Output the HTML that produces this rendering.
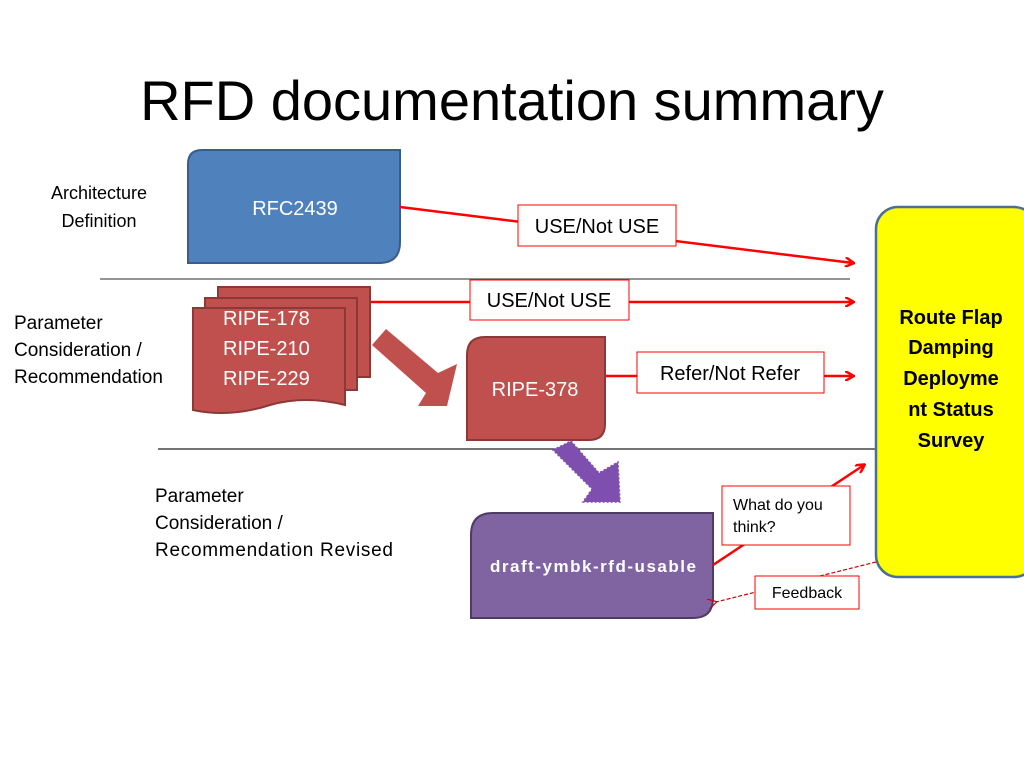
<!DOCTYPE html>
<html><head><meta charset="utf-8"><style>html,body{margin:0;padding:0;background:#fff}svg{display:block}</style></head><body>
<svg width="1024" height="768" xmlns="http://www.w3.org/2000/svg" font-family="Liberation Sans, sans-serif">
<defs>
<marker id="ah" markerWidth="10" markerHeight="10" refX="8" refY="5" orient="auto" markerUnits="userSpaceOnUse"><path d="M0,0 L9,5 L0,10" fill="none" stroke="#f00" stroke-width="2.5"/></marker>
<marker id="ah2" markerWidth="10" markerHeight="10" refX="1" refY="5" orient="auto" markerUnits="userSpaceOnUse"><path d="M9,0 L0,5 L9,10" fill="none" stroke="#c00" stroke-width="1.2"/></marker>
</defs>
<text x="512" y="120" text-anchor="middle" font-size="56" fill="#000">RFD documentation summary</text>

<g font-size="18" fill="#000">
<text x="99" y="199" text-anchor="middle">Architecture</text>
<text x="99" y="227" text-anchor="middle">Definition</text>
</g>
<g font-size="19" fill="#000">
<text x="14" y="329">Parameter</text>
<text x="14" y="356">Consideration /</text>
<text x="14" y="383">Recommendation</text>
<text x="155" y="502">Parameter</text>
<text x="155" y="529">Consideration /</text>
<text x="155" y="556" textLength="238">Recommendation Revised</text>
</g>

<line x1="100" y1="279" x2="850" y2="279" stroke="#555" stroke-width="1.3"/>
<line x1="158" y1="449" x2="876" y2="449" stroke="#222" stroke-width="1.3"/>

<path d="M202,150 H400 V242 Q400,263 379,263 H188 V164 Q188,150 202,150Z" fill="#4F81BD" stroke="#385D8A" stroke-width="2"/>
<text x="295" y="215" text-anchor="middle" font-size="20" fill="#fff">RFC2439</text>

<line x1="400" y1="207" x2="853" y2="263" stroke="#f00" stroke-width="2.5" marker-end="url(#ah)"/>
<rect x="518" y="205" width="158" height="41" fill="#fff" stroke="#f00" stroke-width="1"/>
<text x="597" y="233" text-anchor="middle" font-size="20">USE/Not USE</text>

<line x1="370" y1="302" x2="853" y2="302" stroke="#f00" stroke-width="2.5" marker-end="url(#ah)"/>
<rect x="470" y="280" width="159" height="40" fill="#fff" stroke="#f00" stroke-width="1"/>
<text x="549" y="307" text-anchor="middle" font-size="20">USE/Not USE</text>

<line x1="605" y1="376" x2="853" y2="376" stroke="#f00" stroke-width="2.5" marker-end="url(#ah)"/>
<rect x="637" y="352" width="187" height="41" fill="#fff" stroke="#f00" stroke-width="1"/>
<text x="730" y="380" text-anchor="middle" font-size="20">Refer/Not Refer</text>

<rect x="218" y="287" width="152" height="90" fill="#C0504D" stroke="#8C3836" stroke-width="2"/>
<rect x="205" y="298" width="152" height="92" fill="#C0504D" stroke="#8C3836" stroke-width="2"/>
<path d="M193,308 H345 V405 Q305,395 270,405 Q230,418 193,410Z" fill="#C0504D" stroke="#8C3836" stroke-width="2"/>
<g font-size="20" fill="#fff">
<text x="223" y="325">RIPE-178</text>
<text x="223" y="355">RIPE-210</text>
<text x="223" y="385">RIPE-229</text>
</g>

<path d="M372,345 L386,329 L438,373 L457,364 L447,406 L418,406 L426,393 Z" fill="#C0504D"/>

<path d="M485,337 H605 V424 Q605,440 589,440 H467 V355 Q467,337 485,337Z" fill="#C0504D" stroke="#8C3836" stroke-width="2"/>
<text x="535" y="396" text-anchor="middle" font-size="20" fill="#fff">RIPE-378</text>

<path d="M553,450 L571,441 L599,473 L618,462 L620,502 L583,502 L592,489 Z" fill="#7F4FB0" stroke="#7F4FB0" stroke-width="1.5" stroke-dasharray="2,2"/>

<path d="M493,513 H713 V598 Q713,618 693,618 H471 V535 Q471,513 493,513Z" fill="#8064A2" stroke="#4E3B66" stroke-width="2"/>
<text x="593" y="572" text-anchor="middle" font-size="17" font-weight="bold" fill="#fff" textLength="206">draft-ymbk-rfd-usable</text>

<rect x="876" y="207" width="160" height="370" rx="22" fill="#FFFF00" stroke="#4A6E96" stroke-width="2.5"/>
<g font-size="20" font-weight="bold" text-anchor="middle">
<text x="951" y="324">Route Flap</text>
<text x="951" y="354">Damping</text>
<text x="951" y="385">Deployme</text>
<text x="951" y="416">nt Status</text>
<text x="951" y="447">Survey</text>
</g>

<line x1="713" y1="565" x2="864" y2="465" stroke="#f00" stroke-width="2.5" marker-end="url(#ah)"/>
<rect x="722" y="486" width="128" height="59" fill="#fff" stroke="#f00" stroke-width="1"/>
<text x="733" y="510" font-size="16">What do you</text>
<text x="733" y="532" font-size="16">think?</text>

<line x1="876" y1="562" x2="716" y2="602" stroke="#c00" stroke-width="1.2" stroke-dasharray="4,2" marker-end="url(#ah2)"/>
<rect x="755" y="576" width="104" height="33" fill="#fff" stroke="#f00" stroke-width="1"/>
<text x="807" y="598" text-anchor="middle" font-size="16">Feedback</text>
</svg>
</body></html>
